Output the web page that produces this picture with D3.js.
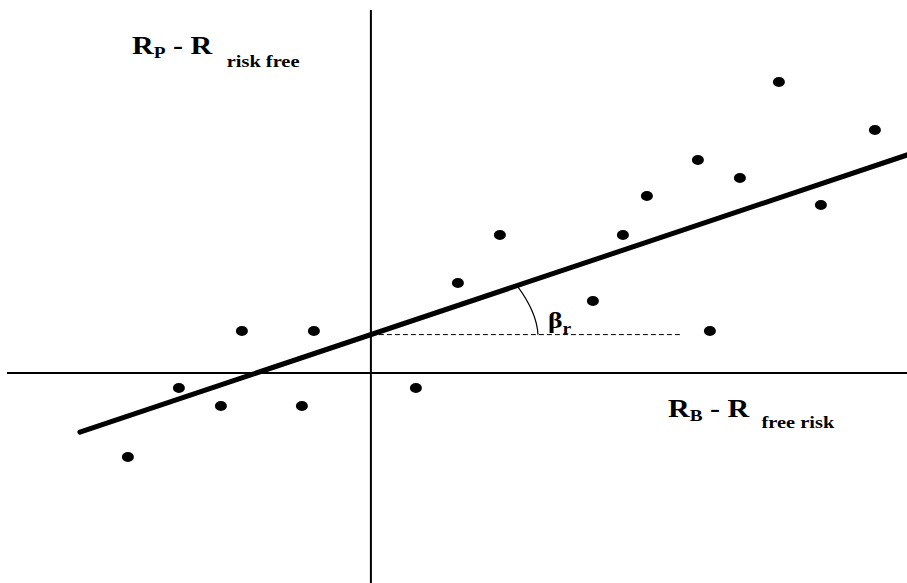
<!DOCTYPE html>
<html>
<head>
<meta charset="utf-8">
<script src="https://cdn.jsdelivr.net/npm/d3@7"></script>
<style>
  body { margin: 0; background: #fff; }
  text { font-family: "Liberation Serif", "Times New Roman", serif; font-weight: bold; fill: #000; }
</style>
</head>
<body>
<div id="chart"></div>
<script>
// excess return of the benchmark (x) and of the portfolio (y)
var benchX = [-8.1, -6.4, -5.0, -4.3, -2.3, -1.9, 1.5, 2.9, 4.3, 7.4, 8.4, 9.2, 10.9, 11.3, 12.3, 13.6, 15.0, 16.8];
var portY  = [-2.8, -0.5, -1.1, 1.4, -1.1, 1.4, -0.5, 3.0, 4.6, 2.4, 4.6, 5.9, 7.1, 1.4, 6.5, 9.7, 5.6, 8.1];

// fitted line y = alpha + beta * x
var alpha = 1.28;
var beta = 0.335;
var lineX = [-9.7, 17.9];
var dashX = [0, 10.4];

var width = 907;
var height = 583;

var svg = d3.select("#chart")
    .append("svg")
    .attr("width", width)
    .attr("height", height)
    .style("background-color", "white");

var x = d3.scaleLinear().domain([-12.13, 17.87]).range([7, 907]);
var y = d3.scaleLinear().domain([-7, 12.1]).range([583, 10]);

// axes through the origin
svg.append("line")
    .attr("x1", x(-12.13)).attr("x2", x(17.87))
    .attr("y1", y(0)).attr("y2", y(0))
    .attr("stroke", "#000").attr("stroke-width", 2);

svg.append("line")
    .attr("x1", x(0)).attr("x2", x(0))
    .attr("y1", y(12.1)).attr("y2", y(-7))
    .attr("stroke", "#000").attr("stroke-width", 2);

// horizontal reference at the intercept
svg.append("line")
    .attr("x1", x(dashX[0])).attr("x2", x(dashX[1]))
    .attr("y1", y(alpha)).attr("y2", y(alpha))
    .attr("stroke", "#000").attr("stroke-width", 1)
    .attr("stroke-dasharray", "5,3");

// regression line
svg.append("line")
    .attr("x1", x(lineX[0])).attr("y1", y(alpha + beta * lineX[0]))
    .attr("x2", x(lineX[1])).attr("y2", y(alpha + beta * lineX[1]))
    .attr("stroke", "#000").attr("stroke-width", 5)
    .attr("stroke-linecap", "round");

// angle arc between the line and the dashed reference
var arcStart = 4.87, arcCtrl = [5.53, 2.03], arcEnd = 5.57;
var p = d3.path();
p.moveTo(x(arcStart), y(alpha + beta * arcStart));
p.quadraticCurveTo(x(arcCtrl[0]), y(arcCtrl[1]), x(arcEnd), y(alpha));
svg.append("path")
    .attr("d", p.toString())
    .attr("fill", "none")
    .attr("stroke", "#000")
    .attr("stroke-width", 1.2);

// observations
svg.append("g")
    .selectAll("ellipse")
    .data(d3.range(benchX.length))
    .enter().append("ellipse")
    .attr("cx", function (i) { return x(benchX[i]); })
    .attr("cy", function (i) { return y(portY[i]); })
    .attr("rx", 6)
    .attr("ry", 5)
    .attr("fill", "#000");

// labels, stretched a bit wide like the old bitmap font
function axisLabel(px, py, sub, tail, tailX, tailDy) {
    var t = svg.append("text")
        .attr("transform", "translate(" + px + "," + py + ") scale(1.2,1)");
    t.append("tspan").attr("font-size", "25px").text("R");
    t.append("tspan").attr("font-size", "16px").attr("dy", 4).text(sub);
    t.append("tspan").attr("font-size", "25px").attr("dy", -4).text(" - R");
    t.append("tspan").attr("font-size", "17px").attr("x", tailX).attr("dy", tailDy).text(tail);
}
axisLabel(132, 54, "P", "risk free", 79, 13);
axisLabel(668, 417, "B", "free risk", 78, 11);

var betaLabel = svg.append("text")
    .attr("transform", "translate(548,328) scale(1.15,1)");
betaLabel.append("tspan").attr("font-size", "24px").text("β");
betaLabel.append("tspan").attr("font-size", "17px").attr("dy", 6).text("r");
</script>
</body>
</html>
